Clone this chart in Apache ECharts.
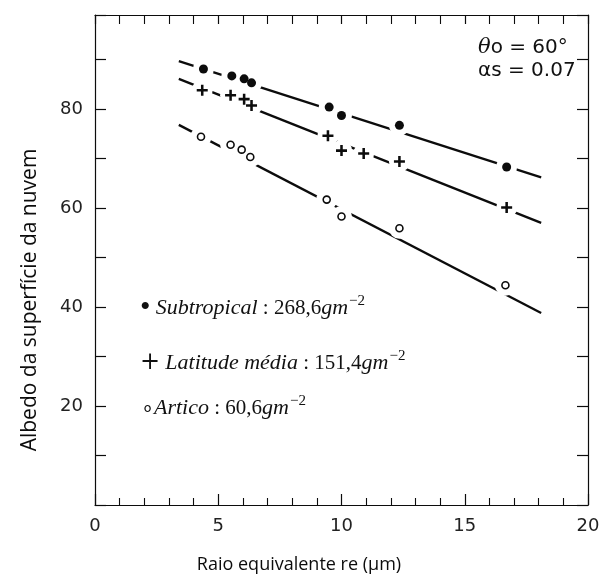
<!DOCTYPE html>
<html>
<head>
<meta charset="utf-8">
<style>
  html, body { margin: 0; padding: 0; background: #fff; }
  #chart { width: 605px; height: 583px; }
</style>
<script src="https://cdn.jsdelivr.net/npm/echarts@6/dist/echarts.min.js"></script>
</head>
<body>
<div id="chart"></div>
<script>
// Equivalent radius (µm) of each measurement
const radiusSubtropical = [4.4, 5.55, 6.05, 6.35, 9.5, 10.0, 12.35, 16.7];
const albedoSubtropical = [88.1, 86.7, 86.1, 85.3, 80.4, 78.7, 76.7, 68.3];

const radiusMidLat = [4.35, 5.5, 6.05, 6.35, 9.45, 10.0, 10.9, 12.35, 16.7];
const albedoMidLat = [83.8, 82.8, 82.0, 80.7, 74.6, 71.6, 71.0, 69.4, 60.1];

const radiusArctic = [4.3, 5.5, 5.95, 6.3, 9.4, 10.0, 12.35, 16.65];
const albedoArctic = [74.4, 72.8, 71.8, 70.3, 61.7, 58.3, 55.9, 44.4];

// Fitted lines: [start radius, end radius] and the albedo at each end
const fitRadius = [3.4, 18.1];
const fitSubtropical = [89.7, 66.2];
const fitMidLat = [86.1, 57.0];
const fitArctic = [76.8, 38.8];

// Axis ranges and labelled ticks
const xRange = [0, 20];
const yRange = [0, 99];
const xLabels = [0, 5, 10, 15, 20];
const yLabels = [20, 40, 60, 80];

const pairs = (xs, ys) => xs.map((x, i) => [x, ys[i]]);

const INK = '#0c0c0c';
const plusPath = 'path://M4,0h2.4v4h4v2.4h-4v4h-2.4v-4h-4v-2.4h4z';

const chart = echarts.init(document.getElementById('chart'), null, { renderer: 'canvas' });

const baseX = {
  type: 'value', min: xRange[0], max: xRange[1], interval: 5,
  axisLine: { show: true, onZero: false, lineStyle: { color: INK, width: 1.2 } },
  axisTick: { show: true, inside: true, length: 11, lineStyle: { color: INK, width: 1.2 } },
  minorTick: { show: true, splitNumber: 5, length: 7, lineStyle: { color: INK, width: 1.1 } },
  splitLine: { show: false }
};
const baseY = {
  type: 'value', min: yRange[0], max: yRange[1], interval: 10,
  axisLine: { show: true, onZero: false, lineStyle: { color: INK, width: 1.2 } },
  axisTick: { show: true, inside: true, length: 11, lineStyle: { color: INK, width: 1.2 } },
  splitLine: { show: false }
};

function fitLine(ys) {
  return {
    type: 'line', data: pairs(fitRadius, ys), showSymbol: false, z: 2,
    lineStyle: { color: INK, width: 2.3 }, silent: true, animation: false
  };
}
// white discs under each marker so the fitted line breaks around it
function halo(xs, ys) {
  return {
    type: 'scatter', data: pairs(xs, ys), symbol: 'circle', symbolSize: 21, z: 3,
    itemStyle: { color: '#fff', opacity: 1 }, silent: true, animation: false
  };
}

const legendRich = {
  it: { fontFamily: 'Liberation Serif', fontStyle: 'italic', fontSize: 22, lineHeight: 28 },
  sup: { fontFamily: 'Liberation Serif', fontSize: 15, verticalAlign: 'top', lineHeight: 28, padding: [0, 0, 10, 1] },
  dot: { fontFamily: 'Liberation Serif', fontSize: 30, lineHeight: 28 },
  plus: { fontFamily: 'DejaVu Serif', fontSize: 24, lineHeight: 28 }
};

const option = {
  backgroundColor: '#fff',
  animation: false,
  grid: { left: 95, right: 17, top: 15, bottom: 78, containLabel: false },
  xAxis: [
    Object.assign({}, baseX, {
      position: 'bottom',
      axisLabel: {
        show: true, margin: 12, fontFamily: 'DejaVu Sans', fontSize: 18, color: '#222',
        formatter: v => xLabels.includes(v) ? String(v) : ''
      }
    }),
    Object.assign({}, baseX, {
      position: 'top',
      axisTick: { show: true, inside: true, length: 9, lineStyle: { color: INK, width: 1.2 } },
      minorTick: { show: true, splitNumber: 5, length: 9, lineStyle: { color: INK, width: 1.1 } },
      axisLabel: { show: false }
    })
  ],
  yAxis: [
    Object.assign({}, baseY, {
      position: 'left',
      axisLabel: {
        show: true, margin: 12, fontFamily: 'DejaVu Sans', fontSize: 18, color: '#222',
        formatter: v => yLabels.includes(v) ? String(v) : ''
      }
    }),
    Object.assign({}, baseY, {
      position: 'right',
      axisLabel: { show: false }
    })
  ],
  series: [
    fitLine(fitSubtropical),
    fitLine(fitMidLat),
    fitLine(fitArctic),
    halo(radiusSubtropical, albedoSubtropical),
    halo(radiusMidLat, albedoMidLat),
    halo(radiusArctic, albedoArctic),
    {
      name: 'Subtropical', type: 'scatter', z: 4, animation: false,
      data: pairs(radiusSubtropical, albedoSubtropical),
      symbol: 'circle', symbolSize: 9, itemStyle: { color: INK, opacity: 1 }
    },
    {
      name: 'Latitude média', type: 'scatter', z: 4, animation: false,
      data: pairs(radiusMidLat, albedoMidLat),
      symbol: plusPath, symbolSize: 11, itemStyle: { color: INK, opacity: 1 }
    },
    {
      name: 'Artico', type: 'scatter', z: 4, animation: false,
      data: pairs(radiusArctic, albedoArctic),
      symbol: 'circle', symbolSize: 7,
      itemStyle: { color: '#fff', borderColor: INK, borderWidth: 1.6, opacity: 1 }
    }
  ],
  graphic: [
    {
      type: 'text', x: 299, y: 565,
      style: {
        text: 'Raio equivalente re (µm)', align: 'center', verticalAlign: 'middle',
        font: '18px "Open Sans"', fill: '#0c0c0c'
      }
    },
    {
      type: 'text', x: 30, y: 300, rotation: Math.PI / 2,
      style: {
        text: 'Albedo da superfície da nuvem', align: 'center', verticalAlign: 'middle',
        font: '21px "Open Sans"', fill: '#0c0c0c'
      }
    },
    {
      type: 'text', left: 478, top: 37,
      style: {
        text: '{i|θ}o = 60°',
        font: '20px "DejaVu Sans"', fill: '#111',
        rich: { i: { fontFamily: 'DejaVu Serif', fontStyle: 'italic', fontSize: 21, fill: '#111' } }
      }
    },
    {
      type: 'text', left: 478, top: 61,
      style: { text: 'αs = 0.07', font: '20px "DejaVu Sans"', fill: '#111' }
    },
    {
      type: 'text', left: 140, top: 293,
      style: {
        text: '{dot|•} {it|Subtropical} : 268,6{it|gm}{sup|−2}',
        font: '21px "Liberation Serif"', fill: '#111', lineHeight: 28, rich: legendRich
      }
    },
    {
      type: 'text', left: 140, top: 349,
      style: {
        text: '{plus|+} {it|Latitude média} : 151,4{it|gm}{sup|−2}',
        font: '21px "Liberation Serif"', fill: '#111', lineHeight: 28, rich: legendRich
      }
    },
    {
      type: 'text', left: 141, top: 394,
      style: {
        text: '∘{it|Artico} : 60,6{it|gm}{sup|−2}',
        font: '21px "Liberation Serif"', fill: '#111', lineHeight: 28, rich: legendRich
      }
    }
  ]
};

chart.setOption(option);
</script>
</body>
</html>
